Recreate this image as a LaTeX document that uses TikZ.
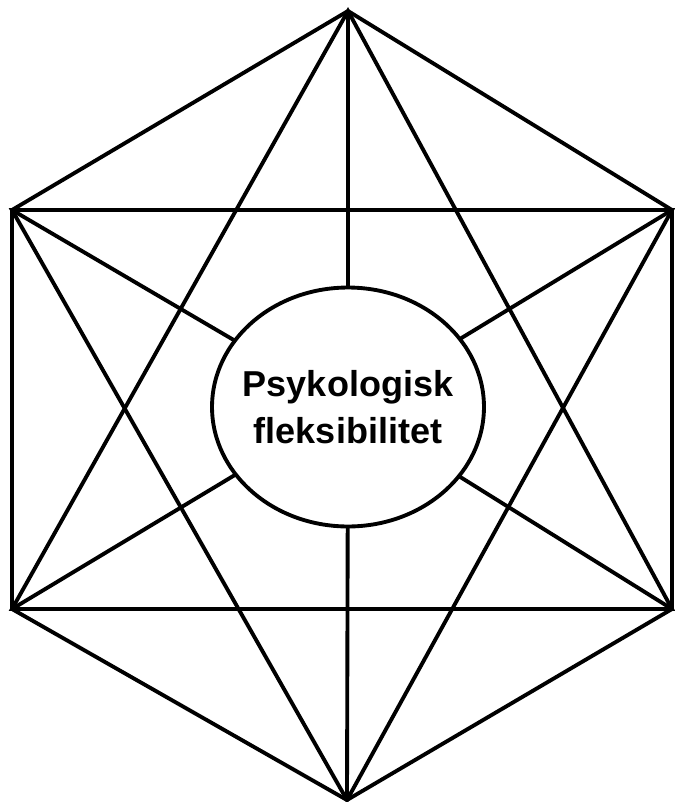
\documentclass[tikz,border=0pt]{standalone}
\usepackage{fontspec}
\setmainfont{Liberation Sans}
\usetikzlibrary{shapes.geometric}

\begin{document}
\begin{tikzpicture}[
    x=0.02cm, y=-0.02cm,
    line width=2.2pt,
    hub node/.style={ellipse, draw, fill=white, minimum width=5.44cm, minimum height=4.78cm,
        inner sep=0pt, outer sep=0pt},
    hub text/.style={align=center, inner sep=0pt, font=\bfseries\fontsize{20.5}{27}\selectfont}
]
    \useasboundingbox (0,0) rectangle (674,802);

    % --- Corners of the hexagon ---
    \coordinate (T)  at (348, 11);
    \coordinate (UR) at (672, 210);
    \coordinate (LR) at (672, 609);
    \coordinate (B)  at (347, 800);
    \coordinate (LL) at (12, 609);
    \coordinate (UL) at (12, 210);

    % --- Outer hexagon ---
    \draw (T) -- (UR) -- (LR) -- (B) -- (LL) -- (UL) -- cycle;

    % --- Two triangles ---
    \draw (T) -- (LR) -- (LL) -- cycle;
    \draw (B) -- (UR) -- (UL) -- cycle;

    % --- Centre ---
    \node[hub node] (Hub) at (348, 407) {};
    \node[hub text] (HubText) at (Hub) {Psykologisk\\fleksibilitet};

    % --- Spokes to the centre ---
    \draw (T) -- (Hub);
    \draw (B) -- (Hub);
    \draw (UL) -- (Hub);
    \draw (UR) -- (Hub);
    \draw (LL) -- (Hub);
    \draw (LR) -- (Hub);
\end{tikzpicture}
\end{document}
